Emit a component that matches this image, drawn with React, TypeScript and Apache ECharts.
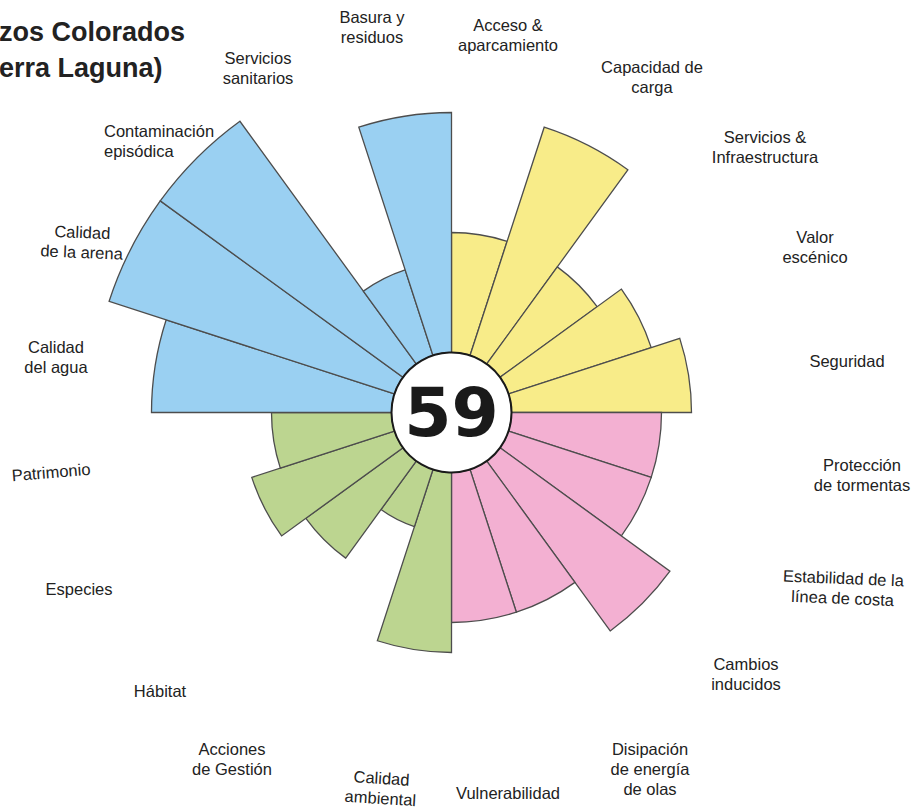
import React, { useEffect, useRef } from "react";
import * as echarts from "echarts";

// Categories clockwise from 12 o'clock
const CATEGORIES = [
  "Acceso & aparcamiento",
  "Capacidad de carga",
  "Servicios & Infraestructura",
  "Valor escénico",
  "Seguridad",
  "Protección de tormentas",
  "Estabilidad de la línea de costa",
  "Cambios inducidos",
  "Disipación de energía de olas",
  "Vulnerabilidad",
  "Calidad ambiental",
  "Acciones de Gestión",
  "Hábitat",
  "Especies",
  "Patrimonio",
  "Calidad del agua",
  "Calidad de la arena",
  "Contaminación episódica",
  "Servicios sanitarios",
  "Basura y residuos",
];

// Scores (0-10)
const SCORES = [4, 8, 4, 5, 6, 5, 5, 7, 5, 5, 6, 2, 4, 5, 4, 8, 10, 10, 3, 8];

// Group index of each category
const GROUP_OF = [0, 0, 0, 0, 0, 1, 1, 1, 1, 1, 2, 2, 2, 2, 2, 3, 3, 3, 3, 3];

const TOTAL_SCORE = "59";
const TITLE_LINES = ["zos Colorados", "erra Laguna)"];

// Displayed label text (with line breaks)
const LABEL_TEXT = [
  "Acceso &\naparcamiento",
  "Capacidad de\ncarga",
  "Servicios &\nInfraestructura",
  "Valor\nescénico",
  "Seguridad",
  "Protección\nde tormentas",
  "Estabilidad de la\nlínea de costa",
  "Cambios\ninducidos",
  "Disipación\nde energía\nde olas",
  "Vulnerabilidad",
  "Calidad\nambiental",
  "Acciones\nde Gestión",
  "Hábitat",
  "Especies",
  "Patrimonio",
  "Calidad\ndel agua",
  "Calidad\nde la arena",
  "Contaminación\nepisódica",
  "Servicios\nsanitarios",
  "Basura y\nresiduos",
];

// ---- layout / style (not data) ----
const GROUP_COLORS = ["#f8ec89", "#f3b0d2", "#bcd590", "#9ad0f2"];
const BORDER = "#4d4d4d";
const CX = 451.5;
const CY = 412.5;
const INNER_R = 60;
const OUTER_R = 360;

const LABEL_LAYOUT: { x: number; y: number; align?: string; rot?: number }[] = [
  { x: 508, y: 35 },
  { x: 652, y: 77 },
  { x: 765, y: 147 },
  { x: 815, y: 247 },
  { x: 847, y: 361 },
  { x: 862, y: 475 },
  { x: 843, y: 588, rot: -0.04 },
  { x: 746, y: 674 },
  { x: 650, y: 769 },
  { x: 508, y: 793 },
  { x: 381, y: 788, rot: -0.06 },
  { x: 232, y: 759 },
  { x: 160, y: 691 },
  { x: 79, y: 589 },
  { x: 51, y: 472, rot: 0.08 },
  { x: 56, y: 357 },
  { x: 82, y: 242, rot: -0.04 },
  { x: 104, y: 141, align: "left" },
  { x: 258, y: 68 },
  { x: 372, y: 27 },
];

export default function App() {
  const ref = useRef<HTMLDivElement>(null);

  useEffect(() => {
    if (!ref.current) return;
    const chart = echarts.init(ref.current, null, { renderer: "svg" });

    const labelFont = "'Liberation Sans', Arial, sans-serif";

    const labelGraphics = LABEL_TEXT.map((t, i) => {
      const L = LABEL_LAYOUT[i];
      return {
        type: "text",
        x: L.x,
        y: L.y,
        rotation: L.rot || 0,
        z: 100,
        style: {
          text: t,
          fill: "#222",
          fontSize: 16.5,
          fontFamily: labelFont,
          lineHeight: 20,
          align: L.align || "center",
          verticalAlign: "middle",
        },
      };
    });

    chart.setOption({
      animation: false,
      backgroundColor: "#ffffff",
      polar: {
        center: [CX, CY],
        radius: [INNER_R, OUTER_R],
      },
      angleAxis: {
        type: "category",
        data: CATEGORIES,
        startAngle: 90,
        clockwise: true,
        axisLine: { show: false },
        axisTick: { show: false },
        axisLabel: { show: false },
        splitLine: { show: false },
      },
      radiusAxis: {
        type: "value",
        min: 0,
        max: 10,
        axisLine: { show: false },
        axisTick: { show: false },
        axisLabel: { show: false },
        splitLine: { show: false },
      },
      series: [
        {
          type: "bar",
          coordinateSystem: "polar",
          barCategoryGap: "0%",
          data: SCORES.map((v, i) => ({
            value: v,
            itemStyle: {
              color: GROUP_COLORS[GROUP_OF[i]],
              borderColor: BORDER,
              borderWidth: 1.3,
            },
          })),
        },
      ],
      graphic: [
        {
          type: "circle",
          z: 100,
          shape: { cx: CX, cy: CY, r: INNER_R },
          style: { fill: "#ffffff", stroke: "#1a1a1a", lineWidth: 2 },
        },
        {
          type: "text",
          z: 101,
          x: CX,
          y: CY,
          style: {
            text: TOTAL_SCORE,
            fill: "#1a1a1a",
            fontFamily: "'DejaVu Sans', Verdana, sans-serif",
            fontWeight: "bold",
            fontSize: 68,
            align: "center",
            verticalAlign: "middle",
          },
        },
        {
          type: "text",
          z: 100,
          x: -1,
          y: 32,
          style: {
            text: TITLE_LINES[0],
            fill: "#222",
            fontFamily: labelFont,
            fontWeight: "bold",
            fontSize: 27,
            align: "left",
            verticalAlign: "middle",
          },
        },
        {
          type: "text",
          z: 100,
          x: -1,
          y: 68,
          style: {
            text: TITLE_LINES[1],
            fill: "#222",
            fontFamily: labelFont,
            fontWeight: "bold",
            fontSize: 27,
            align: "left",
            verticalAlign: "middle",
          },
        },
        ...labelGraphics,
      ],
    });

    return () => chart.dispose();
  }, []);

  return (
    <div
      ref={ref}
      style={{ position: "absolute", left: 0, top: 0, width: 924, height: 810, background: "#fff" }}
    />
  );
}
